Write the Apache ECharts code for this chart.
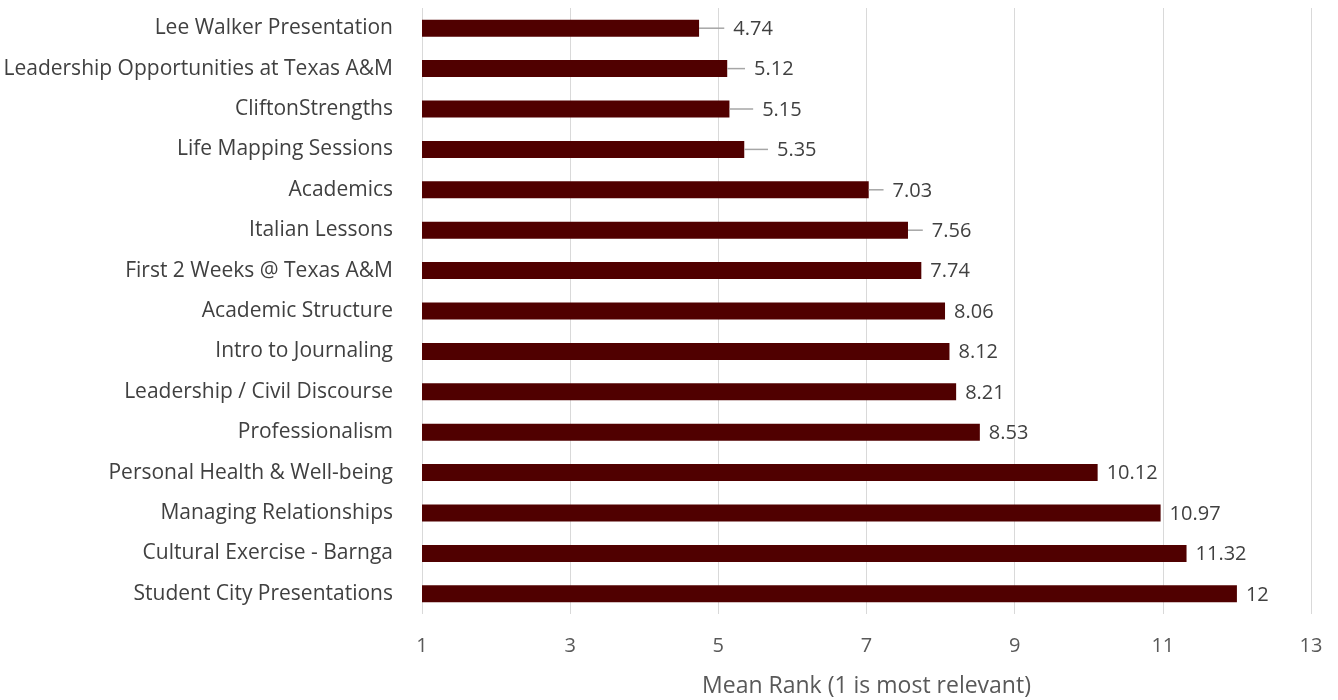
<!DOCTYPE html>
<html><head><meta charset="utf-8">
<script src="https://cdn.jsdelivr.net/npm/echarts@6/dist/echarts.min.js"></script>
<style>html,body{margin:0;padding:0;background:#fff}#c{width:1338px;height:700px}</style>
</head><body><div id="c"></div>
<script>
const categories = ["Lee Walker Presentation","Leadership Opportunities at Texas A&M","CliftonStrengths","Life Mapping Sessions","Academics","Italian Lessons","First 2 Weeks @ Texas A&M","Academic Structure","Intro to Journaling","Leadership / Civil Discourse","Professionalism","Personal Health & Well-being","Managing Relationships","Cultural Exercise - Barnga","Student City Presentations"];
const meanRank = [4.74,5.12,5.15,5.35,7.03,7.56,7.74,8.06,8.12,8.21,8.53,10.12,10.97,11.32,12];
const errorPlus = [0.34,0.24,0.32,0.32,0.2,0.2,0,0,0,0,0,0,0,0,0];
const xTicks = [1,3,5,7,9,11,13];
const FONT = "'Open Sans', sans-serif";

const chart = echarts.init(document.getElementById('c'));
chart.setOption({
  animation:false,
  grid:{left:422,right:27,top:8,bottom:86,containLabel:false,outerBoundsMode:'none'},
  xAxis:{type:'value',min:xTicks[0],max:xTicks[xTicks.length-1],interval:2,
    axisLine:{show:false},axisTick:{show:false},
    splitLine:{show:true,lineStyle:{color:'#d9d9d9',width:1}},
    axisLabel:{color:'#595959',fontSize:20,fontFamily:FONT,margin:22},
    name:'Mean Rank (1 is most relevant)',nameLocation:'middle',nameGap:61,
    nameTextStyle:{color:'#595959',fontSize:23,fontFamily:FONT}},
  yAxis:{type:'category',data:categories,inverse:true,
    axisLine:{show:false},axisTick:{show:false},
    axisLabel:{color:'#404040',fontSize:21,fontFamily:FONT,margin:29}},
  series:[
    {type:'bar',data:meanRank,barWidth:17,itemStyle:{color:'#500000'},z:2},
    {type:'custom',z:3,data:meanRank.map((v,i)=>[v,i,errorPlus[i]]),
     encode:{x:0,y:1},
     renderItem:function(params,api){
       const v=api.value(0), i=api.value(1), e=api.value(2);
       const p0=api.coord([v,i]); const p1=api.coord([v+e,i]);
       const children=[];
       if(e>0) children.push({type:'line',shape:{x1:p0[0],y1:p0[1],x2:p1[0],y2:p1[1]},style:{stroke:'#a6a6a6',lineWidth:1.5}});
       children.push({type:'text',style:{text:String(v),x:p1[0]+9,y:p1[1]+1,textVerticalAlign:'middle',textAlign:'left',fill:'#404040',fontSize:20,fontFamily:FONT}});
       return {type:'group',children:children};
     }}
  ]
});
</script></body></html>
